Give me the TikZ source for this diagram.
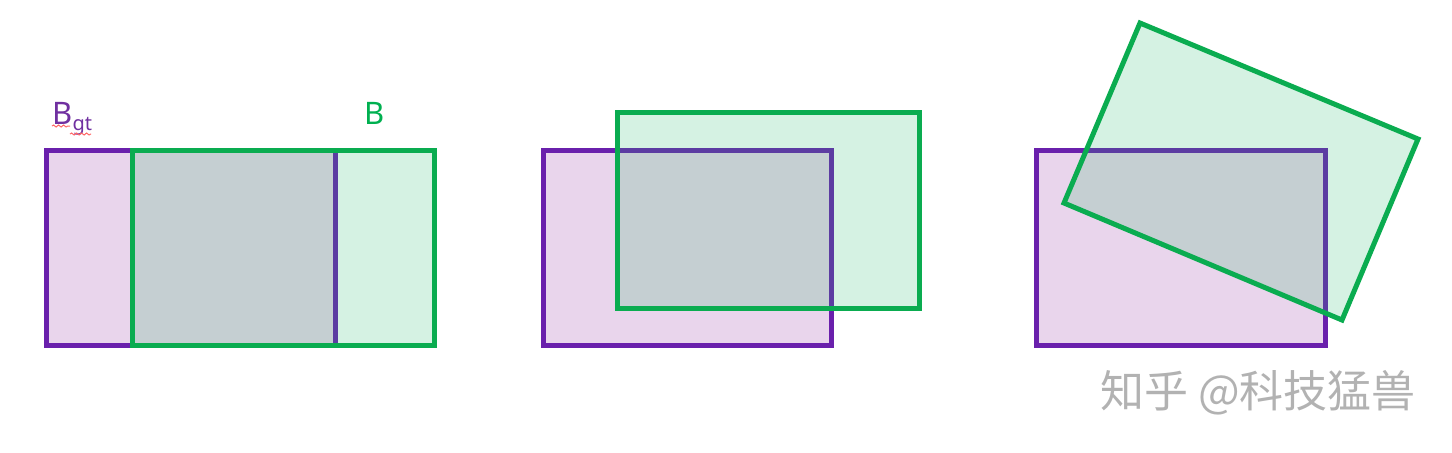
\documentclass[tikz,border=0pt]{standalone}
\usepackage{fontspec}
\setmainfont{Noto Sans}
\newfontfamily\cjkfont{Noto Sans CJK SC}
\usepackage{tikz}
\usetikzlibrary{positioning, decorations.pathmorphing}
\definecolor{gtpurple}{RGB}{106,32,172}
\definecolor{gtfill}{RGB}{233,213,236}
\definecolor{gttext}{RGB}{112,48,160}
\definecolor{predgreen}{RGB}{10,172,80}
\definecolor{predfill}{RGB}{213,242,227}
\definecolor{predtext}{RGB}{0,176,80}
\definecolor{overlapgray}{RGB}{197,207,210}
\definecolor{edgemix}{RGB}{92,60,162}
\definecolor{markgray}{RGB}{178,178,178}

\begin{document}
\begin{tikzpicture}[x=0.5pt, y=-0.5pt,
    gtbox/.style={draw=gtpurple, line width=2.5pt, fill=gtfill},
    predfillbox/.style={fill=predfill},
    predline/.style={draw=predgreen, line width=2.5pt, line join=miter},
    overlap/.style={fill=overlapgray},
    gtedge/.style={draw=edgemix, line width=2.5pt},
    label/.style={font=\fontsize{15.5}{18}\selectfont, inner sep=0pt},
    squiggle/.style={draw=red!60, line width=0.5pt,
                     decorate, decoration={snake, amplitude=0.5pt, segment length=2.5pt}}
]
\useasboundingbox (0,0) rectangle (1452,452);

% panel 1: shifted box
\path[gtbox] (46,150) rectangle (335,345);
\path[predfillbox] (132,150) rectangle (434,345);
\begin{scope}
  \clip (132,150) rectangle (434,345);
  \path[overlap] (46,150) rectangle (335,345);
  \path[gtedge] (46,150) rectangle (335,345);
\end{scope}
\path[predline] (132,150) rectangle (434,345);

% panel 2: shifted up and right
\path[gtbox] (543,150) rectangle (831,345);
\path[predfillbox] (617,112) rectangle (919,308);
\begin{scope}
  \clip (617,112) rectangle (919,308);
  \path[overlap] (543,150) rectangle (831,345);
  \path[gtedge] (543,150) rectangle (831,345);
\end{scope}
\path[predline] (617,112) rectangle (919,308);

% panel 3: rotated box
\path[gtbox] (1036,150) rectangle (1325,345);
\path[predfillbox] (1140,23) -- (1418,139) -- (1342,320) -- (1064,203) -- cycle;
\begin{scope}
  \clip (1140,23) -- (1418,139) -- (1342,320) -- (1064,203) -- cycle;
  \path[overlap] (1036,150) rectangle (1325,345);
  \path[gtedge] (1036,150) rectangle (1325,345);
\end{scope}
\path[predline] (1140,23) -- (1418,139) -- (1342,320) -- (1064,203) -- cycle;

% labels
\node[label, text=gttext, anchor=base west] (gtlabel) at (52,124)
    {B\raisebox{-3pt}{\fontsize{10}{12}\selectfont gt}};
\node[label, text=predtext, anchor=base west] (predlabel) at (364,124) {B};
\draw[squiggle] (52,126) -- (70,126);
\draw[squiggle] (70,134) -- (91,134);

% watermark
\node[font=\cjkfont\fontsize{22}{24}\selectfont, text=markgray, inner sep=0pt]
    (watermark) at (1258,393) {知乎 @科技猛兽};
\end{tikzpicture}
\end{document}
